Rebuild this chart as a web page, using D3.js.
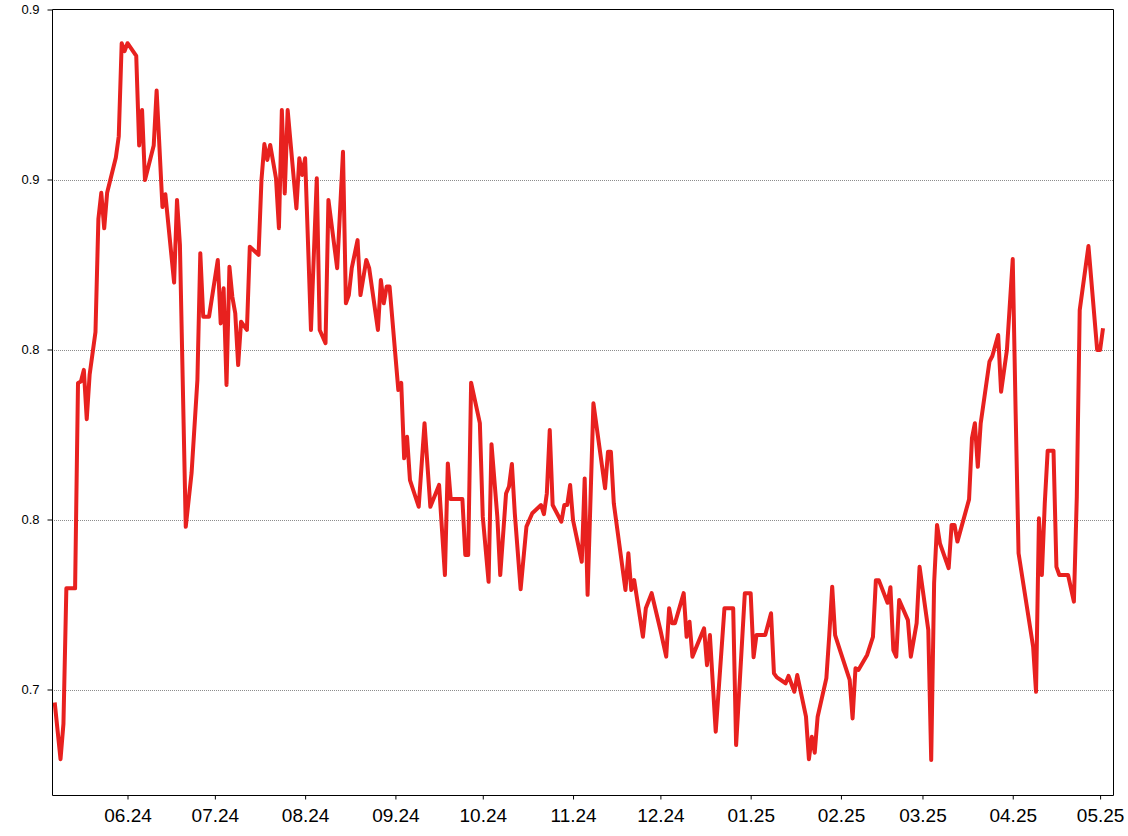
<!DOCTYPE html>
<html>
<head>
<meta charset="utf-8">
<script src="https://cdn.jsdelivr.net/npm/d3@7"></script>
<style>
  body { margin: 0; background: #ffffff; }
  svg { display: block; }
  text { font-family: "Liberation Sans", Arial, sans-serif; fill: #000; }
</style>
</head>
<body>
<svg id="chart" width="1128" height="836"></svg>
<script>
const dates = [
"2024-05-07","2024-05-09","2024-05-10","2024-05-11","2024-05-14","2024-05-15","2024-05-16","2024-05-17","2024-05-18","2024-05-19",
"2024-05-21","2024-05-22","2024-05-23","2024-05-24","2024-05-25","2024-05-28","2024-05-29","2024-05-30","2024-05-31","2024-06-01",
"2024-06-04","2024-06-05","2024-06-06","2024-06-07","2024-06-10","2024-06-11","2024-06-13","2024-06-14","2024-06-17","2024-06-18",
"2024-06-19","2024-06-21","2024-06-23","2024-06-25","2024-06-26","2024-06-27","2024-06-29","2024-07-02","2024-07-03","2024-07-04",
"2024-07-05","2024-07-06","2024-07-07","2024-07-08","2024-07-09","2024-07-10","2024-07-12","2024-07-13","2024-07-16","2024-07-17",
"2024-07-18","2024-07-19","2024-07-20","2024-07-22","2024-07-23","2024-07-24","2024-07-25","2024-07-26","2024-07-29","2024-07-30",
"2024-07-31","2024-08-01","2024-08-03","2024-08-05","2024-08-06","2024-08-08","2024-08-09","2024-08-12","2024-08-14","2024-08-15",
"2024-08-16","2024-08-17","2024-08-19","2024-08-20","2024-08-22","2024-08-23","2024-08-26","2024-08-27","2024-08-28","2024-08-29",
"2024-08-30","2024-09-02","2024-09-03","2024-09-04","2024-09-05","2024-09-06","2024-09-09","2024-09-11","2024-09-13","2024-09-16",
"2024-09-18","2024-09-19","2024-09-20","2024-09-24","2024-09-25","2024-09-26","2024-09-27","2024-09-30","2024-10-01","2024-10-03",
"2024-10-04","2024-10-06","2024-10-07","2024-10-09","2024-10-10","2024-10-11","2024-10-12","2024-10-14","2024-10-16","2024-10-18",
"2024-10-21","2024-10-22","2024-10-23","2024-10-24","2024-10-25","2024-10-28","2024-10-29","2024-10-30","2024-10-31","2024-11-01",
"2024-11-04","2024-11-05","2024-11-06","2024-11-08","2024-11-12","2024-11-13","2024-11-14","2024-11-15","2024-11-19","2024-11-20",
"2024-11-21","2024-11-22","2024-11-25","2024-11-26","2024-11-28","2024-12-01","2024-12-03","2024-12-04","2024-12-05","2024-12-06",
"2024-12-09","2024-12-10","2024-12-11","2024-12-12","2024-12-16","2024-12-17","2024-12-18","2024-12-20","2024-12-23","2024-12-26",
"2024-12-27","2024-12-30","2025-01-01","2025-01-02","2025-01-03","2025-01-06","2025-01-08","2025-01-09","2025-01-10","2025-01-13",
"2025-01-14","2025-01-16","2025-01-17","2025-01-20","2025-01-21","2025-01-22","2025-01-23","2025-01-24","2025-01-27","2025-01-28",
"2025-01-29","2025-01-30","2025-02-01","2025-02-04","2025-02-05","2025-02-06","2025-02-07","2025-02-10","2025-02-12","2025-02-13",
"2025-02-14","2025-02-17","2025-02-18","2025-02-19","2025-02-20","2025-02-21","2025-02-24","2025-02-25","2025-02-27","2025-02-28",
"2025-03-03","2025-03-04","2025-03-05","2025-03-06","2025-03-07","2025-03-10","2025-03-11","2025-03-12","2025-03-13","2025-03-17",
"2025-03-18","2025-03-19","2025-03-20","2025-03-21","2025-03-24","2025-03-25","2025-03-27","2025-03-28","2025-03-30","2025-04-01",
"2025-04-02","2025-04-03","2025-04-08","2025-04-09","2025-04-10","2025-04-11","2025-04-12","2025-04-13","2025-04-15","2025-04-16",
"2025-04-17","2025-04-20","2025-04-22","2025-04-23","2025-04-24","2025-04-27","2025-04-30","2025-05-01","2025-05-02"
];

const values = [
0.6954,0.6754,0.6879,0.7357,0.7357,0.8082,0.8087,0.8128,0.7954,0.8112,
0.8262,0.8661,0.8753,0.8628,0.8753,0.8878,0.8953,0.9281,0.9253,0.9281,
0.9236,0.8920,0.9045,0.8798,0.8920,0.9114,0.8703,0.8748,0.8436,0.8728,
0.8569,0.7574,0.7764,0.8092,0.8540,0.8316,0.8316,0.8516,0.8292,0.8416,
0.8075,0.8492,0.8386,0.8328,0.8145,0.8298,0.8269,0.8563,0.8534,0.8798,
0.8925,0.8869,0.8922,0.8804,0.8628,0.9045,0.8751,0.9045,0.8698,0.8875,
0.8816,0.8875,0.8269,0.8804,0.8269,0.8222,0.8728,0.8487,0.8898,0.8363,
0.8392,0.8487,0.8586,0.8392,0.8516,0.8487,0.8269,0.8445,0.8363,0.8422,
0.8422,0.8057,0.8082,0.7816,0.7892,0.7739,0.7645,0.7940,0.7645,0.7722,
0.7404,0.7798,0.7672,0.7672,0.7475,0.7475,0.8083,0.7940,0.7610,0.7380,
0.7866,0.7610,0.7404,0.7692,0.7716,0.7796,0.7622,0.7354,0.7575,0.7622,
0.7651,0.7619,0.7692,0.7916,0.7651,0.7592,0.7651,0.7651,0.7722,0.7598,
0.7451,0.7745,0.7334,0.8010,0.7710,0.7839,0.7839,0.7657,0.7351,0.7481,
0.7351,0.7386,0.7186,0.7287,0.7340,0.7210,0.7116,0.7287,0.7234,0.7234,
0.7340,0.7186,0.7239,0.7116,0.7216,0.7086,0.7192,0.6851,0.7287,0.7287,
0.6804,0.7340,0.7340,0.7114,0.7192,0.7192,0.7269,0.7057,0.7043,0.7022,
0.7048,0.6992,0.7051,0.6904,0.6754,0.6833,0.6777,0.6904,0.7040,0.7192,
0.7363,0.7192,0.7128,0.7034,0.6898,0.7075,0.7069,0.7122,0.7186,0.7386,
0.7386,0.7306,0.7361,0.7139,0.7116,0.7316,0.7245,0.7116,0.7234,0.7433,
0.7210,0.6751,0.7375,0.7581,0.7516,0.7428,0.7581,0.7581,0.7522,0.7671,
0.7887,0.7940,0.7786,0.7940,0.8157,0.8177,0.8251,0.8051,0.8198,0.8519,
0.7975,0.7481,0.7151,0.6992,0.7604,0.7404,0.7657,0.7843,0.7843,0.7433,
0.7404,0.7404,0.7310,0.7680,0.8339,0.8565,0.8198,0.8198,0.8275
];

const yTickValues = [0.70, 0.76, 0.82, 0.88, 0.94];
const yTickLabels = ["0.7", "0.8", "0.8", "0.9", "0.9"];
const xTickDates = ["2024-06-01","2024-07-01","2024-08-01","2024-09-01","2024-10-01","2024-11-01",
                    "2024-12-01","2025-01-01","2025-02-01","2025-03-01","2025-04-01","2025-05-01"];
const xTickLabels = ["06.24","07.24","08.24","09.24","10.24","11.24","12.24","01.25","02.25","03.25","04.25","05.25"];

(function () {
const parseDay = d3.timeParse("%Y-%m-%d");
const parseFull = d3.timeParse("%Y-%m-%dT%H:%M");
const points = dates.map((d, i) => ({ date: parseDay(d), value: values[i] }));

const plotLeft = 52, plotRight = 1113, plotTop = 9.5, plotBottom = 795;

const x = d3.scaleTime()
  .domain([parseFull("2024-05-06T01:40"), parseFull("2025-05-05T10:20")])
  .range([plotLeft, plotRight]);
const y = d3.scaleLinear()
  .domain([0.662765, 0.94])
  .range([plotBottom, plotTop]);

const svg = d3.select("#chart");

// gridlines
svg.append("g")
  .selectAll("line")
  .data(yTickValues.slice(0, 4))
  .join("line")
  .attr("x1", plotLeft).attr("x2", plotRight)
  .attr("y1", d => Math.round(y(d)) + 0.5)
  .attr("y2", d => Math.round(y(d)) + 0.5)
  .attr("stroke", "#8c8c8c")
  .attr("stroke-width", 1)
  .attr("stroke-dasharray", "1,1");

// frame (top and right)
svg.append("path")
  .attr("d", `M${plotLeft + 0.5},${Math.floor(plotTop) + 0.5}H${plotRight + 0.5}V${plotBottom + 0.5}`)
  .attr("fill", "none")
  .attr("stroke", "#000")
  .attr("stroke-width", 1);

// line
const line = d3.line()
  .x(d => x(d.date))
  .y(d => y(d.value));

svg.append("path")
  .datum(points)
  .attr("d", line)
  .attr("fill", "none")
  .attr("stroke", "#e8211f")
  .attr("stroke-width", 4)
  .attr("stroke-linejoin", "round")
  .attr("stroke-linecap", "butt");

// y axis
const yAxis = d3.axisLeft(y)
  .tickValues(yTickValues)
  .tickFormat((d, i) => yTickLabels[i])
  .tickSize(5)
  .tickPadding(8);
const gy = svg.append("g")
  .attr("transform", `translate(${plotLeft + 0.5},0)`)
  .call(yAxis);
gy.select(".domain").attr("d", `M0,${Math.floor(plotTop) + 0.5}V${plotBottom + 0.5}`).attr("stroke", "#000");
gy.selectAll(".tick line").attr("stroke", "#000");
gy.selectAll(".tick text")
  .style("font-family", '"Liberation Sans", Arial, sans-serif')
  .style("font-size", "13px")
  .attr("fill", "#000");

// x axis
const xAxis = d3.axisBottom(x)
  .tickValues(xTickDates.map(parseDay))
  .tickFormat((d, i) => xTickLabels[i])
  .tickSize(4)
  .tickPadding(9.5);
const gx = svg.append("g")
  .attr("transform", `translate(0,${plotBottom + 0.5})`)
  .call(xAxis);
gx.select(".domain").attr("d", `M${plotLeft + 0.5},0H${plotRight + 0.5}`).attr("stroke", "#000");
gx.selectAll(".tick line").attr("stroke", "#000");
gx.selectAll(".tick text")
  .style("font-family", '"Liberation Sans", Arial, sans-serif')
  .style("font-size", "19px")
  .attr("fill", "#000");
})();
</script>
</body>
</html>
